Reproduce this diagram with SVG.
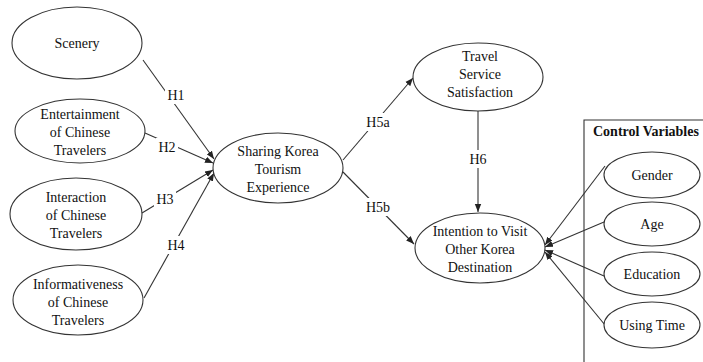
<svg xmlns="http://www.w3.org/2000/svg" width="703" height="362" viewBox="0 0 703 362">
<defs>
<marker id="arr" viewBox="0 0 10 10" refX="10" refY="5" markerWidth="8" markerHeight="8" markerUnits="userSpaceOnUse" orient="auto">
<path d="M0,1 L10,5 L0,9 z" fill="#222"/>
</marker>
<style>
.n ellipse{fill:#fff;stroke:#333;stroke-width:1.1}
text{font-family:'Liberation Serif','Tinos','DejaVu Serif','Noto Serif',serif;font-size:14px;fill:#111;text-anchor:middle}
.e line{stroke:#333;stroke-width:1.1;marker-end:url(#arr)}
.lb rect{fill:#fff}
.b{font-weight:bold;text-anchor:start}
</style>
</defs>
<rect width="703" height="362" fill="#fff"/>
<path d="M584,362 V120 H703" fill="none" stroke="#333" stroke-width="1.1"/>
<text class="b" x="593" y="136">Control Variables</text>
<g class="e" id="connectors">
<line x1="143" y1="60" x2="214" y2="159"/>
<line x1="145" y1="133" x2="213" y2="163"/>
<line x1="142" y1="213" x2="213" y2="170"/>
<line x1="144" y1="298" x2="214" y2="173"/>
<line x1="343" y1="160" x2="413" y2="78"/>
<line x1="343" y1="172" x2="414" y2="244"/>
<line x1="478" y1="111" x2="478" y2="212"/>
<line x1="605" y1="166" x2="545" y2="245"/>
<line x1="604" y1="222" x2="545" y2="247"/>
<line x1="604" y1="276" x2="545" y2="250"/>
<line x1="605" y1="325" x2="545" y2="252"/>
</g>
<g class="lb" id="labels">
<rect x="165" y="86" width="22" height="18"/><text x="176" y="100">H1</text>
<rect x="156" y="138" width="22" height="18"/><text x="167" y="152">H2</text>
<rect x="154" y="190" width="22" height="18"/><text x="165" y="204">H3</text>
<rect x="165" y="236" width="22" height="18"/><text x="176" y="250">H4</text>
<rect x="364" y="113" width="28" height="18"/><text x="378" y="127">H5a</text>
<rect x="364" y="198" width="28" height="18"/><text x="378" y="212">H5b</text>
<rect x="467" y="150" width="22" height="18"/><text x="478" y="164">H6</text>
</g>
<g class="n" id="scenery"><ellipse cx="77" cy="43" rx="65" ry="36"/><text x="77" y="48">Scenery</text></g>
<g class="n" id="entertainment"><ellipse cx="80" cy="131" rx="65" ry="32"/><text x="80" y="119">Entertainment</text><text x="80" y="137">of Chinese</text><text x="80" y="155">Travelers</text></g>
<g class="n" id="interaction"><ellipse cx="76" cy="214" rx="66" ry="36"/><text x="76" y="202">Interaction</text><text x="76" y="220">of Chinese</text><text x="76" y="238">Travelers</text></g>
<g class="n" id="informativeness"><ellipse cx="78" cy="300" rx="65" ry="35"/><text x="78" y="289">Informativeness</text><text x="78" y="307">of Chinese</text><text x="78" y="325">Travelers</text></g>
<g class="n" id="sharing"><ellipse cx="278" cy="168" rx="65" ry="35"/><text x="278" y="156">Sharing Korea</text><text x="278" y="174">Tourism</text><text x="278" y="192">Experience</text></g>
<g class="n" id="travel"><ellipse cx="478" cy="77" rx="65" ry="34"/><text x="480" y="61">Travel</text><text x="480" y="79">Service</text><text x="480" y="97">Satisfaction</text></g>
<g class="n" id="intention"><ellipse cx="480" cy="248" rx="65" ry="35"/><text x="480" y="236">Intention to Visit</text><text x="480" y="254">Other Korea</text><text x="480" y="272">Destination</text></g>
<g class="n" id="gender"><ellipse cx="652" cy="175" rx="48" ry="23"/><text x="652" y="180">Gender</text></g>
<g class="n" id="age"><ellipse cx="652" cy="224" rx="48" ry="22"/><text x="652" y="229">Age</text></g>
<g class="n" id="education"><ellipse cx="652" cy="274" rx="48" ry="22"/><text x="652" y="279">Education</text></g>
<g class="n" id="usingtime"><ellipse cx="652" cy="325" rx="48" ry="23"/><text x="652" y="330">Using Time</text></g>
</svg>
